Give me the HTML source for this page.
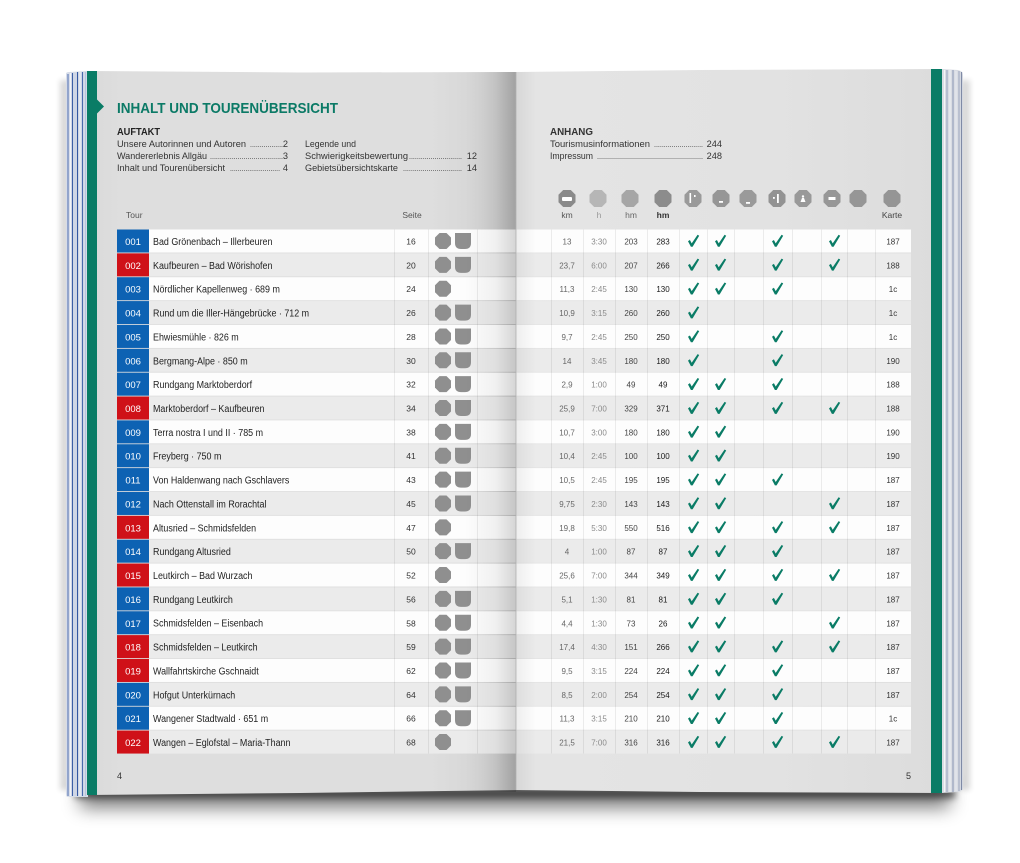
<!DOCTYPE html>
<html><head><meta charset="utf-8">
<style>
html,body{margin:0;padding:0;background:#fff;}
svg{display:block;}
</style></head>
<body>
<svg width="1020" height="863" viewBox="0 0 1020 863" xmlns="http://www.w3.org/2000/svg" xmlns:xlink="http://www.w3.org/1999/xlink">
<style>
text{font-family:"Liberation Sans",sans-serif;}
.n{font-size:9.5px;fill:#fff;text-anchor:middle;}
.nm{font-size:10.5px;fill:#222;}
.s{font-size:8.5px;fill:#333;text-anchor:middle;}
.c{font-size:8px;text-anchor:middle;fill:#666;}
.h{fill:#8a8a8a;}
.hm{fill:#444;}
.hm2{fill:#1a1a1a;}
.k{fill:#333;}
.toc{font-size:9.2px;fill:#333;}
.dt{font-size:9.2px;fill:#555;}
.hd{font-size:8.5px;fill:#555;text-anchor:middle;}
</style>
<defs>
<filter id="blur" x="-10%" y="-80%" width="120%" height="260%"><feGaussianBlur stdDeviation="9"/></filter>
<filter id="blur3" x="-10%" y="-100%" width="120%" height="300%"><feGaussianBlur stdDeviation="3.5"/></filter>
<filter id="blur2" x="-50%" y="-10%" width="200%" height="120%"><feGaussianBlur stdDeviation="3"/></filter>
<linearGradient id="lp" x1="87" y1="0" x2="516" y2="0" gradientUnits="userSpaceOnUse">
<stop offset="0" stop-color="#d9d9d9"/><stop offset="0.08" stop-color="#dedede"/><stop offset="0.8" stop-color="#dedede"/><stop offset="0.92" stop-color="#d5d5d5"/><stop offset="1" stop-color="#c0c0c0"/>
</linearGradient>
<linearGradient id="rp" x1="516" y1="0" x2="942" y2="0" gradientUnits="userSpaceOnUse">
<stop offset="0" stop-color="#e4e4e4"/><stop offset="0.05" stop-color="#e4e4e4"/><stop offset="0.6" stop-color="#e2e2e2"/><stop offset="1" stop-color="#dcdcdc"/>
</linearGradient>
<linearGradient id="lov" x1="465" y1="0" x2="516" y2="0" gradientUnits="userSpaceOnUse">
<stop offset="0" stop-color="#000" stop-opacity="0"/><stop offset="0.6" stop-color="#000" stop-opacity="0.05"/><stop offset="1" stop-color="#000" stop-opacity="0.16"/>
</linearGradient>
<linearGradient id="rov" x1="516" y1="0" x2="536" y2="0" gradientUnits="userSpaceOnUse">
<stop offset="0" stop-color="#000" stop-opacity="0.06"/><stop offset="1" stop-color="#000" stop-opacity="0"/>
</linearGradient>
<g id="oc"><polygon points="-3.5,-8 3.5,-8 8,-3.5 8,3.5 3.5,8 -3.5,8 -8,3.5 -8,-3.5" fill="#8f8f8f"/></g>
<g id="sh"><path d="M-8,-8 H8 V2 Q8,8 2,8 H-2 Q-8,8 -8,2 Z" fill="#8f8f8f"/></g>
<g id="ck"><polygon points="-5,0.3 -3.1,-1 -1.3,2.4 4.6,-6.2 6.2,-5.3 -0.4,5.8 -2.1,5.8" fill="#0a7c66"/></g>
<g id="ho"><polygon points="-3.8,-8.5 3.8,-8.5 8.5,-3.8 8.5,3.8 3.8,8.5 -3.8,8.5 -8.5,3.8 -8.5,-3.8"/></g>
</defs>

<!-- shadow under book -->
<rect x="80" y="784" width="870" height="24" fill="#000" opacity="0.5" filter="url(#blur)"/>
<rect x="75" y="788" width="880" height="10" fill="#000" opacity="0.55" filter="url(#blur3)"/>
<rect x="60" y="80" width="10" height="710" fill="#000" opacity="0.15" filter="url(#blur2)"/>
<rect x="960" y="80" width="10" height="710" fill="#000" opacity="0.15" filter="url(#blur2)"/>

<!-- left page edge stack -->
<path d="M66,74 Q66,72 69,72 L88,71 L88,797 L68,797 Q66,797 66,794 Z" fill="#d6dce8"/>
<g stroke-width="1.1">
<line x1="68" y1="74" x2="68" y2="796" stroke="#5a78b5"/>
<line x1="70.5" y1="73" x2="70.5" y2="796" stroke="#f2f4f8"/>
<line x1="72.5" y1="73" x2="72.5" y2="796" stroke="#3d5fa6"/>
<line x1="75" y1="73" x2="75" y2="796" stroke="#c9d2e4"/>
<line x1="77.5" y1="72" x2="77.5" y2="796" stroke="#3458a2"/>
<line x1="80" y1="72" x2="80" y2="796" stroke="#eef1f6"/>
<line x1="82.5" y1="72" x2="82.5" y2="796" stroke="#4a6aae"/>
<line x1="85.5" y1="72" x2="85.5" y2="796" stroke="#b9c4dc"/>
</g>
<!-- right page edge stack -->
<path d="M942,69 L958,70 Q963,71 963,75 L963,788 Q962,792 958,792 L942,793 Z" fill="#d9dce3"/>
<g stroke-width="1.1">
<line x1="944.5" y1="70" x2="944.5" y2="792" stroke="#f4f5f8"/>
<line x1="947" y1="70" x2="947" y2="792" stroke="#9aa6c0"/>
<line x1="950" y1="70" x2="950" y2="792" stroke="#eef0f4"/>
<line x1="953" y1="70" x2="953" y2="792" stroke="#8f9cb8"/>
<line x1="956" y1="71" x2="956" y2="791" stroke="#e6e9ef"/>
<line x1="959" y1="71" x2="959" y2="791" stroke="#a0aac2"/>
<line x1="961.5" y1="72" x2="961.5" y2="790" stroke="#7f8aa6"/>
</g>

<!-- pages -->
<polygon points="87,71 300,72.5 516,72 516,790 300,793 87,795" fill="url(#lp)"/>
<polygon points="516,72 700,70 942,69 942,793 700,792 516,790" fill="url(#rp)"/>

<!-- green strips -->
<rect x="87" y="71" width="10" height="724" fill="#0a7c66"/>
<polygon points="97,99.5 104,106.5 97,113.5" fill="#0a7c66"/>
<rect x="931" y="69" width="11" height="724" fill="#0a7c66"/>

<!-- title -->
<text x="117" y="113" font-size="15" font-weight="bold" fill="#0b7a66" textLength="221" lengthAdjust="spacingAndGlyphs">INHALT UND TOURENÜBERSICHT</text>

<!-- AUFTAKT -->
<text x="117" y="135" font-size="10" font-weight="bold" fill="#222" textLength="43" lengthAdjust="spacingAndGlyphs">AUFTAKT</text>
<text x="117" y="147" class="toc" textLength="129" lengthAdjust="spacingAndGlyphs">Unsere Autorinnen und Autoren</text>
<text x="250" y="147" class="dt" textLength="33" lengthAdjust="spacingAndGlyphs">.................</text>
<text x="288" y="147" class="toc" text-anchor="end">2</text>
<text x="117" y="159" class="toc" textLength="90" lengthAdjust="spacingAndGlyphs">Wandererlebnis Allgäu</text>
<text x="210" y="159" class="dt" textLength="73" lengthAdjust="spacingAndGlyphs">.....................................</text>
<text x="288" y="159" class="toc" text-anchor="end">3</text>
<text x="117" y="171" class="toc" textLength="108" lengthAdjust="spacingAndGlyphs">Inhalt und Tourenübersicht</text>
<text x="230" y="171" class="dt" textLength="50" lengthAdjust="spacingAndGlyphs">..........................</text>
<text x="288" y="171" class="toc" text-anchor="end">4</text>

<text x="305" y="147" class="toc" textLength="51" lengthAdjust="spacingAndGlyphs">Legende und</text>
<text x="305" y="159" class="toc" textLength="103" lengthAdjust="spacingAndGlyphs">Schwierigkeitsbewertung</text>
<text x="409" y="159" class="dt" textLength="53" lengthAdjust="spacingAndGlyphs">...........................</text>
<text x="477" y="159" class="toc" text-anchor="end">12</text>
<text x="305" y="171" class="toc" textLength="93" lengthAdjust="spacingAndGlyphs">Gebietsübersichtskarte</text>
<text x="403" y="171" class="dt" textLength="59" lengthAdjust="spacingAndGlyphs">..............................</text>
<text x="477" y="171" class="toc" text-anchor="end">14</text>

<!-- ANHANG -->
<text x="550" y="135" font-size="10" font-weight="bold" fill="#333" textLength="43" lengthAdjust="spacingAndGlyphs">ANHANG</text>
<text x="550" y="147" class="toc" fill="#444" textLength="100" lengthAdjust="spacingAndGlyphs">Tourismusinformationen</text>
<text x="654" y="147" class="dt" textLength="49" lengthAdjust="spacingAndGlyphs">.........................</text>
<text x="722" y="147" class="toc" text-anchor="end">244</text>
<text x="550" y="159" class="toc" textLength="43" lengthAdjust="spacingAndGlyphs">Impressum</text>
<text x="597" y="159" class="dt" textLength="106" lengthAdjust="spacingAndGlyphs">.....................................................</text>
<text x="722" y="159" class="toc" text-anchor="end">248</text>

<!-- table headers -->
<text x="126" y="218" font-size="8.5" fill="#555">Tour</text>
<text x="412" y="218" class="hd">Seite</text>

<use href="#ho" x="567" y="198.5" fill="#8a8a8a"/>
<rect x="562" y="197" width="10" height="4" rx="1" fill="#fff"/>
<use href="#ho" x="598" y="198.5" fill="#b6b6b6"/>
<use href="#ho" x="630" y="198.5" fill="#a6a6a6"/>
<use href="#ho" x="663" y="198.5" fill="#8c8c8c"/>
<use href="#ho" x="693" y="198.5" fill="#9a9a9a"/>
<rect x="689.5" y="193" width="1.6" height="10" fill="#fff"/><rect x="694" y="195" width="1.6" height="2" fill="#fff"/>
<use href="#ho" x="721" y="198.5" fill="#969696"/>
<rect x="719" y="201" width="4" height="1.8" fill="#fff"/>
<use href="#ho" x="748" y="198.5" fill="#9a9a9a"/>
<rect x="746" y="202" width="4" height="1.8" fill="#fff"/>
<use href="#ho" x="777" y="198.5" fill="#939393"/>
<rect x="773" y="197" width="1.8" height="1.8" fill="#fff"/><rect x="777" y="194" width="1.8" height="9" fill="#fff"/>
<use href="#ho" x="803" y="198.5" fill="#999"/>
<polygon points="800.5,202 805.5,202 804,198 802,198" fill="#fff"/><circle cx="803" cy="196.5" r="1.2" fill="#fff"/>
<use href="#ho" x="832" y="198.5" fill="#979797"/>
<rect x="828.5" y="197" width="7" height="3" fill="#fff"/>
<use href="#ho" x="858" y="198.5" fill="#969696"/>
<use href="#ho" x="892" y="198.5" fill="#959595"/>

<text x="567" y="218" class="hd" fill="#777">km</text>
<text x="599" y="218" class="hd" style="fill:#999">h</text>
<text x="631" y="218" class="hd" style="fill:#666">hm</text>
<text x="663" y="218" class="hd" style="fill:#333" font-weight="bold">hm</text>
<text x="892" y="218" class="hd" style="fill:#444">Karte</text>

<!-- rows -->
<g transform="translate(0,229.5)"><rect x="149" width="762" height="23" fill="#fdfdfd"/><rect x="117" width="32" height="23" fill="#0d62b3"/><text x="133" y="15.5" class="n">001</text><text y="15.5" class="nm" transform="translate(153,0) scale(0.85,1)">Bad Grönenbach – Illerbeuren</text><text x="411" y="15" class="s">16</text><use href="#oc" x="443" y="11.5"/><use href="#sh" x="463" y="11.5"/><text x="567" y="15" class="c">13</text><text x="599" y="15" class="c h">3:30</text><text x="631" y="15" class="c hm">203</text><text x="663" y="15" class="c hm2">283</text><use href="#ck" x="693" y="11.5"/><use href="#ck" x="720" y="11.5"/><use href="#ck" x="777" y="11.5"/><use href="#ck" x="834" y="11.5"/><text x="893" y="15" class="c k">187</text></g>

<g transform="translate(0,253.36)"><rect x="149" width="762" height="23" fill="#ebebeb"/><rect x="117" width="32" height="23" fill="#cf1118"/><text x="133" y="15.5" class="n">002</text><text y="15.5" class="nm" transform="translate(153,0) scale(0.85,1)">Kaufbeuren – Bad Wörishofen</text><text x="411" y="15" class="s">20</text><use href="#oc" x="443" y="11.5"/><use href="#sh" x="463" y="11.5"/><text x="567" y="15" class="c">23,7</text><text x="599" y="15" class="c h">6:00</text><text x="631" y="15" class="c hm">207</text><text x="663" y="15" class="c hm2">266</text><use href="#ck" x="693" y="11.5"/><use href="#ck" x="720" y="11.5"/><use href="#ck" x="777" y="11.5"/><use href="#ck" x="834" y="11.5"/><text x="893" y="15" class="c k">188</text></g>

<g transform="translate(0,277.22)"><rect x="149" width="762" height="23" fill="#fdfdfd"/><rect x="117" width="32" height="23" fill="#0d62b3"/><text x="133" y="15.5" class="n">003</text><text y="15.5" class="nm" transform="translate(153,0) scale(0.85,1)">Nördlicher Kapellenweg · 689 m</text><text x="411" y="15" class="s">24</text><use href="#oc" x="443" y="11.5"/><text x="567" y="15" class="c">11,3</text><text x="599" y="15" class="c h">2:45</text><text x="631" y="15" class="c hm">130</text><text x="663" y="15" class="c hm2">130</text><use href="#ck" x="693" y="11.5"/><use href="#ck" x="720" y="11.5"/><use href="#ck" x="777" y="11.5"/><text x="893" y="15" class="c k">1c</text></g>

<g transform="translate(0,301.08)"><rect x="149" width="762" height="23" fill="#ebebeb"/><rect x="117" width="32" height="23" fill="#0d62b3"/><text x="133" y="15.5" class="n">004</text><text y="15.5" class="nm" transform="translate(153,0) scale(0.85,1)">Rund um die Iller-Hängebrücke · 712 m</text><text x="411" y="15" class="s">26</text><use href="#oc" x="443" y="11.5"/><use href="#sh" x="463" y="11.5"/><text x="567" y="15" class="c">10,9</text><text x="599" y="15" class="c h">3:15</text><text x="631" y="15" class="c hm">260</text><text x="663" y="15" class="c hm2">260</text><use href="#ck" x="693" y="11.5"/><text x="893" y="15" class="c k">1c</text></g>

<g transform="translate(0,324.94)"><rect x="149" width="762" height="23" fill="#fdfdfd"/><rect x="117" width="32" height="23" fill="#0d62b3"/><text x="133" y="15.5" class="n">005</text><text y="15.5" class="nm" transform="translate(153,0) scale(0.85,1)">Ehwiesmühle · 826 m</text><text x="411" y="15" class="s">28</text><use href="#oc" x="443" y="11.5"/><use href="#sh" x="463" y="11.5"/><text x="567" y="15" class="c">9,7</text><text x="599" y="15" class="c h">2:45</text><text x="631" y="15" class="c hm">250</text><text x="663" y="15" class="c hm2">250</text><use href="#ck" x="693" y="11.5"/><use href="#ck" x="777" y="11.5"/><text x="893" y="15" class="c k">1c</text></g>

<g transform="translate(0,348.8)"><rect x="149" width="762" height="23" fill="#ebebeb"/><rect x="117" width="32" height="23" fill="#0d62b3"/><text x="133" y="15.5" class="n">006</text><text y="15.5" class="nm" transform="translate(153,0) scale(0.85,1)">Bergmang-Alpe · 850 m</text><text x="411" y="15" class="s">30</text><use href="#oc" x="443" y="11.5"/><use href="#sh" x="463" y="11.5"/><text x="567" y="15" class="c">14</text><text x="599" y="15" class="c h">3:45</text><text x="631" y="15" class="c hm">180</text><text x="663" y="15" class="c hm2">180</text><use href="#ck" x="693" y="11.5"/><use href="#ck" x="777" y="11.5"/><text x="893" y="15" class="c k">190</text></g>

<g transform="translate(0,372.66)"><rect x="149" width="762" height="23" fill="#fdfdfd"/><rect x="117" width="32" height="23" fill="#0d62b3"/><text x="133" y="15.5" class="n">007</text><text y="15.5" class="nm" transform="translate(153,0) scale(0.85,1)">Rundgang Marktoberdorf</text><text x="411" y="15" class="s">32</text><use href="#oc" x="443" y="11.5"/><use href="#sh" x="463" y="11.5"/><text x="567" y="15" class="c">2,9</text><text x="599" y="15" class="c h">1:00</text><text x="631" y="15" class="c hm">49</text><text x="663" y="15" class="c hm2">49</text><use href="#ck" x="693" y="11.5"/><use href="#ck" x="720" y="11.5"/><use href="#ck" x="777" y="11.5"/><text x="893" y="15" class="c k">188</text></g>

<g transform="translate(0,396.52)"><rect x="149" width="762" height="23" fill="#ebebeb"/><rect x="117" width="32" height="23" fill="#cf1118"/><text x="133" y="15.5" class="n">008</text><text y="15.5" class="nm" transform="translate(153,0) scale(0.85,1)">Marktoberdorf – Kaufbeuren</text><text x="411" y="15" class="s">34</text><use href="#oc" x="443" y="11.5"/><use href="#sh" x="463" y="11.5"/><text x="567" y="15" class="c">25,9</text><text x="599" y="15" class="c h">7:00</text><text x="631" y="15" class="c hm">329</text><text x="663" y="15" class="c hm2">371</text><use href="#ck" x="693" y="11.5"/><use href="#ck" x="720" y="11.5"/><use href="#ck" x="777" y="11.5"/><use href="#ck" x="834" y="11.5"/><text x="893" y="15" class="c k">188</text></g>

<g transform="translate(0,420.38)"><rect x="149" width="762" height="23" fill="#fdfdfd"/><rect x="117" width="32" height="23" fill="#0d62b3"/><text x="133" y="15.5" class="n">009</text><text y="15.5" class="nm" transform="translate(153,0) scale(0.85,1)">Terra nostra I und II · 785 m</text><text x="411" y="15" class="s">38</text><use href="#oc" x="443" y="11.5"/><use href="#sh" x="463" y="11.5"/><text x="567" y="15" class="c">10,7</text><text x="599" y="15" class="c h">3:00</text><text x="631" y="15" class="c hm">180</text><text x="663" y="15" class="c hm2">180</text><use href="#ck" x="693" y="11.5"/><use href="#ck" x="720" y="11.5"/><text x="893" y="15" class="c k">190</text></g>

<g transform="translate(0,444.24)"><rect x="149" width="762" height="23" fill="#ebebeb"/><rect x="117" width="32" height="23" fill="#0d62b3"/><text x="133" y="15.5" class="n">010</text><text y="15.5" class="nm" transform="translate(153,0) scale(0.85,1)">Freyberg · 750 m</text><text x="411" y="15" class="s">41</text><use href="#oc" x="443" y="11.5"/><use href="#sh" x="463" y="11.5"/><text x="567" y="15" class="c">10,4</text><text x="599" y="15" class="c h">2:45</text><text x="631" y="15" class="c hm">100</text><text x="663" y="15" class="c hm2">100</text><use href="#ck" x="693" y="11.5"/><use href="#ck" x="720" y="11.5"/><text x="893" y="15" class="c k">190</text></g>

<g transform="translate(0,468.1)"><rect x="149" width="762" height="23" fill="#fdfdfd"/><rect x="117" width="32" height="23" fill="#0d62b3"/><text x="133" y="15.5" class="n">011</text><text y="15.5" class="nm" transform="translate(153,0) scale(0.85,1)">Von Haldenwang nach Gschlavers</text><text x="411" y="15" class="s">43</text><use href="#oc" x="443" y="11.5"/><use href="#sh" x="463" y="11.5"/><text x="567" y="15" class="c">10,5</text><text x="599" y="15" class="c h">2:45</text><text x="631" y="15" class="c hm">195</text><text x="663" y="15" class="c hm2">195</text><use href="#ck" x="693" y="11.5"/><use href="#ck" x="720" y="11.5"/><use href="#ck" x="777" y="11.5"/><text x="893" y="15" class="c k">187</text></g>

<g transform="translate(0,491.96)"><rect x="149" width="762" height="23" fill="#ebebeb"/><rect x="117" width="32" height="23" fill="#0d62b3"/><text x="133" y="15.5" class="n">012</text><text y="15.5" class="nm" transform="translate(153,0) scale(0.85,1)">Nach Ottenstall im Rorachtal</text><text x="411" y="15" class="s">45</text><use href="#oc" x="443" y="11.5"/><use href="#sh" x="463" y="11.5"/><text x="567" y="15" class="c">9,75</text><text x="599" y="15" class="c h">2:30</text><text x="631" y="15" class="c hm">143</text><text x="663" y="15" class="c hm2">143</text><use href="#ck" x="693" y="11.5"/><use href="#ck" x="720" y="11.5"/><use href="#ck" x="834" y="11.5"/><text x="893" y="15" class="c k">187</text></g>

<g transform="translate(0,515.82)"><rect x="149" width="762" height="23" fill="#fdfdfd"/><rect x="117" width="32" height="23" fill="#cf1118"/><text x="133" y="15.5" class="n">013</text><text y="15.5" class="nm" transform="translate(153,0) scale(0.85,1)">Altusried – Schmidsfelden</text><text x="411" y="15" class="s">47</text><use href="#oc" x="443" y="11.5"/><text x="567" y="15" class="c">19,8</text><text x="599" y="15" class="c h">5:30</text><text x="631" y="15" class="c hm">550</text><text x="663" y="15" class="c hm2">516</text><use href="#ck" x="693" y="11.5"/><use href="#ck" x="720" y="11.5"/><use href="#ck" x="777" y="11.5"/><use href="#ck" x="834" y="11.5"/><text x="893" y="15" class="c k">187</text></g>

<g transform="translate(0,539.68)"><rect x="149" width="762" height="23" fill="#ebebeb"/><rect x="117" width="32" height="23" fill="#0d62b3"/><text x="133" y="15.5" class="n">014</text><text y="15.5" class="nm" transform="translate(153,0) scale(0.85,1)">Rundgang Altusried</text><text x="411" y="15" class="s">50</text><use href="#oc" x="443" y="11.5"/><use href="#sh" x="463" y="11.5"/><text x="567" y="15" class="c">4</text><text x="599" y="15" class="c h">1:00</text><text x="631" y="15" class="c hm">87</text><text x="663" y="15" class="c hm2">87</text><use href="#ck" x="693" y="11.5"/><use href="#ck" x="720" y="11.5"/><use href="#ck" x="777" y="11.5"/><text x="893" y="15" class="c k">187</text></g>

<g transform="translate(0,563.54)"><rect x="149" width="762" height="23" fill="#fdfdfd"/><rect x="117" width="32" height="23" fill="#cf1118"/><text x="133" y="15.5" class="n">015</text><text y="15.5" class="nm" transform="translate(153,0) scale(0.85,1)">Leutkirch – Bad Wurzach</text><text x="411" y="15" class="s">52</text><use href="#oc" x="443" y="11.5"/><text x="567" y="15" class="c">25,6</text><text x="599" y="15" class="c h">7:00</text><text x="631" y="15" class="c hm">344</text><text x="663" y="15" class="c hm2">349</text><use href="#ck" x="693" y="11.5"/><use href="#ck" x="720" y="11.5"/><use href="#ck" x="777" y="11.5"/><use href="#ck" x="834" y="11.5"/><text x="893" y="15" class="c k">187</text></g>

<g transform="translate(0,587.4)"><rect x="149" width="762" height="23" fill="#ebebeb"/><rect x="117" width="32" height="23" fill="#0d62b3"/><text x="133" y="15.5" class="n">016</text><text y="15.5" class="nm" transform="translate(153,0) scale(0.85,1)">Rundgang Leutkirch</text><text x="411" y="15" class="s">56</text><use href="#oc" x="443" y="11.5"/><use href="#sh" x="463" y="11.5"/><text x="567" y="15" class="c">5,1</text><text x="599" y="15" class="c h">1:30</text><text x="631" y="15" class="c hm">81</text><text x="663" y="15" class="c hm2">81</text><use href="#ck" x="693" y="11.5"/><use href="#ck" x="720" y="11.5"/><use href="#ck" x="777" y="11.5"/><text x="893" y="15" class="c k">187</text></g>

<g transform="translate(0,611.26)"><rect x="149" width="762" height="23" fill="#fdfdfd"/><rect x="117" width="32" height="23" fill="#0d62b3"/><text x="133" y="15.5" class="n">017</text><text y="15.5" class="nm" transform="translate(153,0) scale(0.85,1)">Schmidsfelden – Eisenbach</text><text x="411" y="15" class="s">58</text><use href="#oc" x="443" y="11.5"/><use href="#sh" x="463" y="11.5"/><text x="567" y="15" class="c">4,4</text><text x="599" y="15" class="c h">1:30</text><text x="631" y="15" class="c hm">73</text><text x="663" y="15" class="c hm2">26</text><use href="#ck" x="693" y="11.5"/><use href="#ck" x="720" y="11.5"/><use href="#ck" x="834" y="11.5"/><text x="893" y="15" class="c k">187</text></g>

<g transform="translate(0,635.12)"><rect x="149" width="762" height="23" fill="#ebebeb"/><rect x="117" width="32" height="23" fill="#cf1118"/><text x="133" y="15.5" class="n">018</text><text y="15.5" class="nm" transform="translate(153,0) scale(0.85,1)">Schmidsfelden – Leutkirch</text><text x="411" y="15" class="s">59</text><use href="#oc" x="443" y="11.5"/><use href="#sh" x="463" y="11.5"/><text x="567" y="15" class="c">17,4</text><text x="599" y="15" class="c h">4:30</text><text x="631" y="15" class="c hm">151</text><text x="663" y="15" class="c hm2">266</text><use href="#ck" x="693" y="11.5"/><use href="#ck" x="720" y="11.5"/><use href="#ck" x="777" y="11.5"/><use href="#ck" x="834" y="11.5"/><text x="893" y="15" class="c k">187</text></g>

<g transform="translate(0,658.98)"><rect x="149" width="762" height="23" fill="#fdfdfd"/><rect x="117" width="32" height="23" fill="#cf1118"/><text x="133" y="15.5" class="n">019</text><text y="15.5" class="nm" transform="translate(153,0) scale(0.85,1)">Wallfahrtskirche Gschnaidt</text><text x="411" y="15" class="s">62</text><use href="#oc" x="443" y="11.5"/><use href="#sh" x="463" y="11.5"/><text x="567" y="15" class="c">9,5</text><text x="599" y="15" class="c h">3:15</text><text x="631" y="15" class="c hm">224</text><text x="663" y="15" class="c hm2">224</text><use href="#ck" x="693" y="11.5"/><use href="#ck" x="720" y="11.5"/><use href="#ck" x="777" y="11.5"/><text x="893" y="15" class="c k">187</text></g>

<g transform="translate(0,682.84)"><rect x="149" width="762" height="23" fill="#ebebeb"/><rect x="117" width="32" height="23" fill="#0d62b3"/><text x="133" y="15.5" class="n">020</text><text y="15.5" class="nm" transform="translate(153,0) scale(0.85,1)">Hofgut Unterkürnach</text><text x="411" y="15" class="s">64</text><use href="#oc" x="443" y="11.5"/><use href="#sh" x="463" y="11.5"/><text x="567" y="15" class="c">8,5</text><text x="599" y="15" class="c h">2:00</text><text x="631" y="15" class="c hm">254</text><text x="663" y="15" class="c hm2">254</text><use href="#ck" x="693" y="11.5"/><use href="#ck" x="720" y="11.5"/><use href="#ck" x="777" y="11.5"/><text x="893" y="15" class="c k">187</text></g>

<g transform="translate(0,706.7)"><rect x="149" width="762" height="23" fill="#fdfdfd"/><rect x="117" width="32" height="23" fill="#0d62b3"/><text x="133" y="15.5" class="n">021</text><text y="15.5" class="nm" transform="translate(153,0) scale(0.85,1)">Wangener Stadtwald · 651 m</text><text x="411" y="15" class="s">66</text><use href="#oc" x="443" y="11.5"/><use href="#sh" x="463" y="11.5"/><text x="567" y="15" class="c">11,3</text><text x="599" y="15" class="c h">3:15</text><text x="631" y="15" class="c hm">210</text><text x="663" y="15" class="c hm2">210</text><use href="#ck" x="693" y="11.5"/><use href="#ck" x="720" y="11.5"/><use href="#ck" x="777" y="11.5"/><text x="893" y="15" class="c k">1c</text></g>

<g transform="translate(0,730.56)"><rect x="149" width="762" height="23" fill="#ebebeb"/><rect x="117" width="32" height="23" fill="#cf1118"/><text x="133" y="15.5" class="n">022</text><text y="15.5" class="nm" transform="translate(153,0) scale(0.85,1)">Wangen – Eglofstal – Maria-Thann</text><text x="411" y="15" class="s">68</text><use href="#oc" x="443" y="11.5"/><text x="567" y="15" class="c">21,5</text><text x="599" y="15" class="c h">7:00</text><text x="631" y="15" class="c hm">316</text><text x="663" y="15" class="c hm2">316</text><use href="#ck" x="693" y="11.5"/><use href="#ck" x="720" y="11.5"/><use href="#ck" x="777" y="11.5"/><use href="#ck" x="834" y="11.5"/><text x="893" y="15" class="c k">187</text></g>

<!-- column separators -->
<g stroke="#000" stroke-opacity="0.07" stroke-width="1">
<line x1="394.5" y1="229.5" x2="394.5" y2="753.5"/>
<line x1="428.5" y1="229.5" x2="428.5" y2="753.5"/>
<line x1="477.5" y1="229.5" x2="477.5" y2="753.5"/>
<line x1="551.5" y1="229.5" x2="551.5" y2="753.5"/>
<line x1="583.5" y1="229.5" x2="583.5" y2="753.5"/>
<line x1="615.5" y1="229.5" x2="615.5" y2="753.5"/>
<line x1="647.5" y1="229.5" x2="647.5" y2="753.5"/>
<line x1="679.5" y1="229.5" x2="679.5" y2="753.5"/>
<line x1="707.5" y1="229.5" x2="707.5" y2="753.5"/>
<line x1="734.5" y1="229.5" x2="734.5" y2="753.5"/>
<line x1="763.5" y1="229.5" x2="763.5" y2="753.5"/>
<line x1="792.5" y1="229.5" x2="792.5" y2="753.5"/>
<line x1="821.5" y1="229.5" x2="821.5" y2="753.5"/>
<line x1="847.5" y1="229.5" x2="847.5" y2="753.5"/>
<line x1="875.5" y1="229.5" x2="875.5" y2="753.5"/>
</g>

<!-- page numbers -->
<text x="117" y="779" font-size="9" fill="#333">4</text>
<text x="906" y="779" font-size="9" fill="#333">5</text>

<!-- gutter shading -->
<rect x="465" y="72" width="51" height="720" fill="url(#lov)"/>
<rect x="516" y="72" width="20" height="718" fill="url(#rov)"/>
<line x1="516" y1="72" x2="516" y2="790" stroke="#b0b0b0" stroke-width="0.8"/>
</svg>
</body></html>
